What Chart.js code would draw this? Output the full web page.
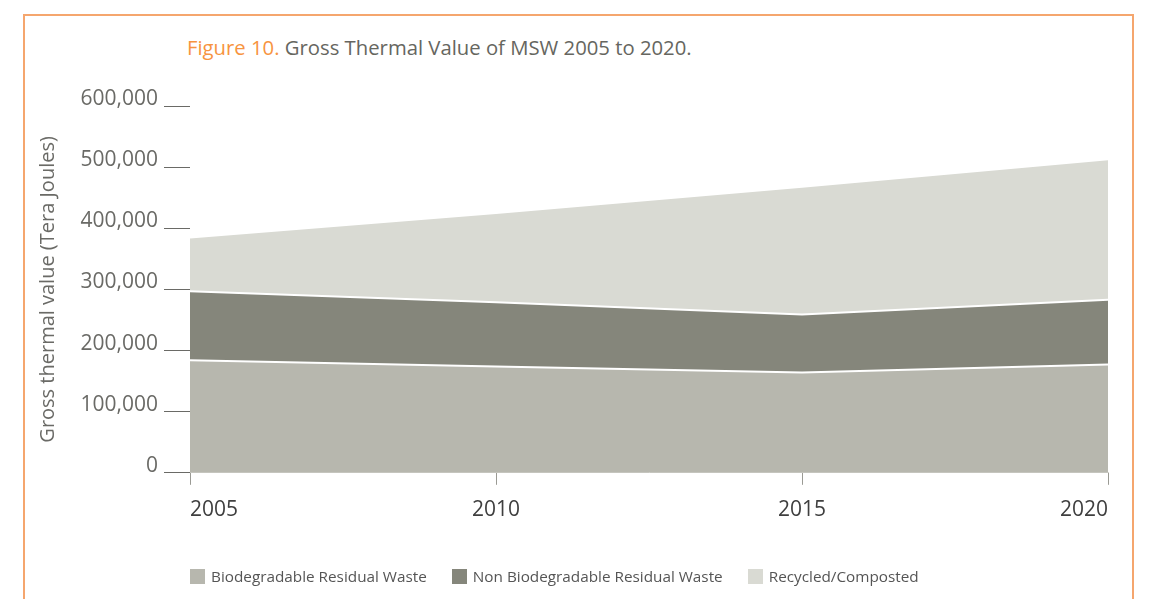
<!DOCTYPE html>
<html>
<head>
<meta charset="utf-8">
<script src="https://cdn.jsdelivr.net/npm/chart.js@4.4.1/dist/chart.umd.min.js"></script>
<style>
  body { margin: 0; background: #fff; font-family: "Open Sans", sans-serif; }
  #wrap { position: relative; width: 1151px; height: 599px; overflow: hidden; }
  #frame { position: absolute; left: 23px; top: 14px; width: 1107px; height: 700px;
           border: 2px solid #f5a66e; }
  #title { position: absolute; left: 187px; top: 33px; font-size: 20.3px; color: #666660; white-space: nowrap; }
  #title span { color: #f7943f; }
  #grafico { position: absolute; left: 0; top: 0; }
  #legenda { position: absolute; left: 190px; top: 566px; font-size: 15.3px; color: #555; white-space: nowrap; }
  .item { display: inline-block; margin-right: 25px; }
  .caixa { display: inline-block; width: 15px; height: 15px; vertical-align: -2px; margin-right: 6px; }
</style>
</head>
<body>
<div id="wrap">
  <div id="frame"></div>
  <div id="title"><span>Figure 10.</span> Gross Thermal Value of MSW 2005 to 2020.</div>
  <canvas id="grafico" width="1151" height="599"></canvas>
  <div id="legenda"></div>
</div>
<script>
var anos = ['2005', '2010', '2015', '2020'];
var biodegradavel = [184000, 174000, 164000, 177000];
var naoBiodegradavel = [113000, 105000, 95000, 106000];
var reciclado = [88000, 146000, 209000, 230000];
var ticksY = [0, 100000, 200000, 300000, 400000, 500000, 600000];
var nomes = ['Biodegradable Residual Waste', 'Non Biodegradable Residual Waste', 'Recycled/Composted'];
var cores = ['#b7b7ae', '#85867b', '#d9dad3'];

var series = [biodegradavel, naoBiodegradavel, reciclado];
var sets = [];
for (var i = 0; i < series.length; i++) {
    sets.push({
        label: nomes[i],
        data: series[i],
        backgroundColor: cores[i],
        borderColor: '#ffffff',
        borderWidth: 2,
        pointRadius: 0,
        tension: 0,
        fill: i == 0 ? 'origin' : '-1'
    });
}

// legenda em html
var legenda = document.getElementById('legenda');
for (var i = 0; i < nomes.length; i++) {
    var item = document.createElement('span');
    item.className = 'item';
    item.innerHTML = '<span class="caixa" style="background:' + cores[i] + '"></span>' + nomes[i];
    legenda.appendChild(item);
}

var ctx = document.getElementById('grafico').getContext('2d');
var grafico = new Chart(ctx, {
    type: 'line',
    data: { labels: anos, datasets: sets },
    options: {
        responsive: false,
        animation: false,
        devicePixelRatio: 1,
        layout: { padding: { left: 33, right: 43, top: 106, bottom: 63 } },
        plugins: { legend: { display: false }, tooltip: { enabled: false } },
        scales: {
            x: {
                offset: false,
                grid: { drawOnChartArea: false, drawTicks: true, tickLength: 12, color: '#9a9a94' },
                border: { display: true, color: '#d0d0ca', width: 1 },
                ticks: { align: 'inner', padding: 13, color: '#3f3f3f', maxRotation: 0,
                         font: { family: 'Open Sans', size: 21 } }
            },
            y: {
                stacked: true,
                min: 0,
                max: 600000,
                afterFit: function(scale) { scale.width = 157; },
                afterBuildTicks: function(scale) {
                    scale.ticks = ticksY.map(function(v) { return { value: v }; });
                },
                grid: { drawOnChartArea: false, drawTicks: true, tickLength: 26, color: '#6a6a66' },
                border: { display: false },
                ticks: {
                    padding: 6,
                    labelOffset: -7,
                    color: '#6a6a66',
                    font: { family: 'Open Sans', size: 21 },
                    callback: function(v) { return v.toLocaleString('en-US'); }
                },
                title: {
                    display: true,
                    text: 'Gross thermal value (Tera Joules)',
                    color: '#6a6a66',
                    font: { family: 'Open Sans', size: 20 },
                    padding: { top: 3, bottom: 3 }
                }
            }
        }
    }
});
</script>
</body>
</html>
